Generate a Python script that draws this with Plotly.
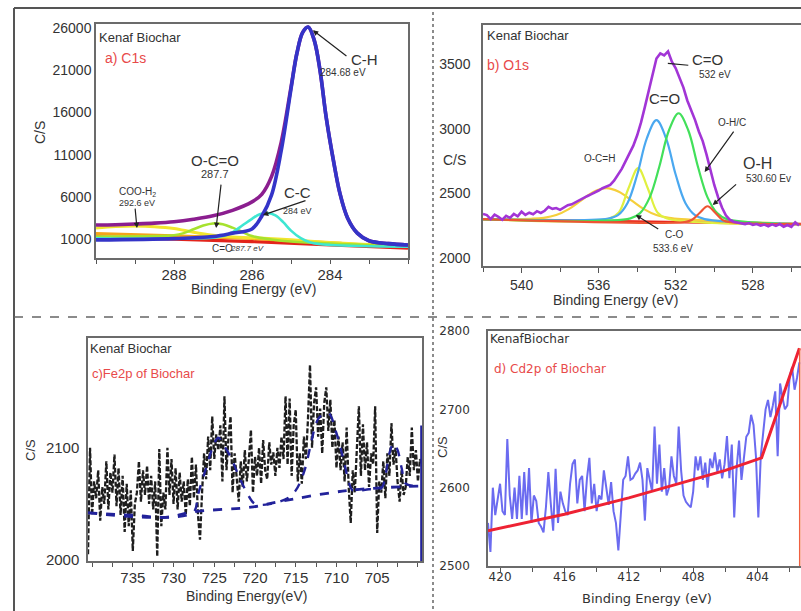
import plotly.graph_objects as go

W, H = 801, 611
FONT = "Liberation Sans, Arial, sans-serif"
FONT_D = "DejaVu Sans, sans-serif"

# ---------------- Panel a: C1s ----------------
a_env_x = [290, 289.5, 289, 288.5, 288, 287.5, 287, 286.5, 286, 285.75, 285.5, 285.25, 285.0, 284.85,
           284.7, 284.56, 284.4, 284.25, 284.1, 283.9, 283.75, 283.55, 283.3, 283.0, 282.5, 282]
a_env_y = [2660, 2700, 2780, 2880, 3050, 3350, 3750, 4400, 5400, 6300, 8400, 12500, 19000, 23000,
           25500, 26150, 24500, 20800, 15500, 10000, 6500, 3500, 1700, 800, 450, 290]
a_ch_x = [290, 288, 287, 286.5, 286, 285.75, 285.5, 285.25, 285.0, 284.85, 284.7, 284.56, 284.4,
          284.25, 284.1, 283.9, 283.75, 283.55, 283.3, 283.0, 282.5, 282]
a_ch_y = [900, 1050, 1300, 1700, 2200, 3700, 6200, 11500, 18800, 23000, 25500, 26150, 24500,
          20800, 15500, 10000, 6500, 3500, 1700, 800, 450, 290]
a_cc_x = [290, 287, 286.75, 286.5, 286.25, 286.0, 285.8, 285.6, 285.4, 285.2, 285.0, 284.75, 284.5, 284, 282]
a_cc_y = [1100, 1150, 1350, 1800, 2600, 3400, 3950, 4080, 3800, 3000, 2000, 1100, 600, 300, 100]
a_oco_x = [290, 288.5, 288, 287.75, 287.5, 287.25, 287.0, 286.75, 286.5, 286.25, 286.0, 285.5, 285, 282]
a_oco_y = [1300, 1350, 1450, 1700, 2150, 2600, 2850, 2750, 2350, 1850, 1350, 950, 700, 100]
a_cooh_x = [290, 289.5, 289, 288.5, 288, 287.5, 287, 286.5, 286, 285, 284, 283, 282]
a_cooh_y = [2300, 2480, 2540, 2470, 2250, 1800, 1450, 1250, 1150, 900, 600, 350, 200]
a_org_x = [290, 288, 286, 284, 283, 282]
a_org_y = [1650, 1400, 1050, 550, 300, 150]
a_base_x = [290, 288, 286, 284, 282]
a_base_y = [1250, 1000, 700, 300, -80]
a_ticks = [288, 286, 284]

# ---------------- Panel b: O1s ----------------
b_x0, b_step = 542.0, 0.2
b_counts = [2340, 2332, 2300, 2335, 2318, 2296, 2326, 2310, 2340, 2322,
            2358, 2333, 2350, 2338, 2362, 2348, 2365, 2395, 2380, 2386,
            2372, 2390, 2408, 2415, 2432, 2448, 2462, 2478, 2492, 2505,
            2522, 2540, 2556, 2566, 2598, 2640, 2690, 2750, 2805, 2870,
            2950, 3050, 3170, 3295, 3420, 3545, 3585, 3570, 3600, 3520,
            3470, 3390, 3320, 3220, 3150, 3070, 2980, 2905, 2800, 2680,
            2565, 2470, 2390, 2330, 2296, 2280, 2272, 2268, 2262, 2270,
            2255, 2262, 2250, 2258, 2245, 2260, 2248, 2262, 2242, 2255,
            2240, 2275, 2250]
b_x = [round(b_x0 - b_step * i, 2) for i in range(len(b_counts))]
b_co_x = [542, 535.5, 535, 534.5, 534, 533.5, 533, 532.5, 532, 531.5, 531, 530.5, 525.5]
b_co_y = [2300, 2305, 2331, 2426, 2644, 2927, 3067, 2927, 2644, 2426, 2331, 2300, 2262]
b_ohc_x = [542, 534.35, 533.85, 533.35, 532.85, 532.35, 531.85, 531.35, 530.85, 530.35, 529.85, 529.35, 525.5]
b_ohc_y = [2300, 2306, 2347, 2469, 2708, 2989, 3121, 2989, 2708, 2469, 2347, 2300, 2262]
b_c_o_x = [542, 535.45, 534.95, 534.45, 533.95, 533.45, 532.95, 532.45, 525.5]
b_c_o_y = [2300, 2305, 2353, 2540, 2696, 2540, 2353, 2305, 2262]
b_och_x = [542, 539.5, 538.85, 538.2, 537.55, 536.9, 536.25, 535.6, 534.95, 534.3, 533.65, 533.0,
           532.35, 531.7, 525.5]
b_och_y = [2300, 2303, 2310, 2332, 2378, 2446, 2512, 2540, 2512, 2446, 2378, 2332, 2310, 2300, 2262]
b_oh_x = [542, 531.55, 531.15, 530.75, 530.35, 529.95, 529.55, 529.15, 525.5]
b_oh_y = [2300, 2278, 2295, 2350, 2400, 2350, 2292, 2276, 2262]
b_base_x = [542, 525.5]
b_base_y = [2300, 2262]
b_ticks = [540, 536, 532, 528]

# ---------------- Panel c: Fe2p ----------------
c_x0, c_step = 740.5, 0.25
c_counts = [2005, 2100, 2040, 2070, 2055, 2080, 2035, 2065, 2050, 2088, 2045, 2078,
            2060, 2094, 2048, 2082, 2040, 2075, 2025, 2068, 2030, 2062, 2008, 2050,
            2060, 2088, 2052, 2080, 2058, 2084, 2050, 2075, 2045, 2070, 2003, 2099,
            2030, 2060, 2045, 2100, 2058, 2090, 2050, 2082, 2045, 2078, 2052, 2070,
            2040, 2072, 2048, 2092, 2055, 2085, 2040, 2018, 2060, 2095, 2072, 2110,
            2080, 2128, 2090, 2112, 2098, 2120, 2070, 2146, 2080, 2110, 2128, 2060,
            2095, 2070, 2052, 2088, 2065, 2098, 2070, 2090, 2116, 2060, 2092, 2075,
            2100, 2068, 2107, 2080, 2072, 2105, 2085, 2096, 2075, 2100, 2082, 2110,
            2090, 2146, 2085, 2144, 2075, 2120, 2134, 2070, 2095, 2068, 2110, 2090,
            2125, 2174, 2100, 2140, 2154, 2110, 2135, 2095, 2140, 2154, 2115, 2143,
            2100, 2125, 2082, 2110, 2080, 2105, 2070, 2118, 2065, 2033, 2080, 2060,
            2095, 2137, 2075, 2121, 2080, 2105, 2065, 2095, 2085, 2137, 2024, 2070,
            2060, 2088, 2055, 2095, 2075, 2122, 2085, 2100, 2070, 2052, 2080, 2058,
            2065, 2092, 2075, 2118, 2080, 2098, 2070, 2090, 2085]
c_x = [round(c_x0 - c_step * i, 2) for i in range(len(c_counts))]
c_fit_x = [740.5, 735, 730, 727.5, 727, 726, 725, 724.5, 724, 723, 722, 721, 720, 718, 717, 716,
           715, 714, 713, 712.5, 712, 711, 710, 709, 708.5, 708, 706, 704.5, 704, 703.5, 703,
           702.5, 702, 701.5, 700.5, 699.5]
c_fit_y = [2042, 2040, 2038, 2043, 2058, 2082, 2104, 2109, 2104, 2092, 2075, 2060, 2050, 2050,
           2052, 2055, 2062, 2078, 2108, 2122, 2128, 2131, 2113, 2085, 2070, 2062, 2063, 2064,
           2075, 2095, 2104, 2098, 2082, 2068, 2066, 2066]
c_base_x = [740.5, 731, 727.5, 720.5, 717, 708.5, 699.5]
c_base_y = [2042, 2038, 2043, 2047, 2052, 2062, 2066]
c_edge_x = [699.6, 699.6]
c_edge_y = [2120, 1999]
c_ticks = [735, 730, 725, 720, 715, 710, 705]

# ---------------- Panel d: Cd2p ----------------
d_x0, d_step = 420.75, 0.15
d_counts = [2555, 2518, 2600, 2565, 2585, 2605, 2570, 2565, 2662, 2590,
            2560, 2600, 2560, 2615, 2560, 2620, 2565, 2625, 2555, 2590,
            2583, 2555, 2550, 2543, 2575, 2620, 2580, 2545, 2624, 2555,
            2595, 2580, 2570, 2565, 2605, 2630, 2636, 2580, 2610, 2615,
            2570, 2612, 2638, 2580, 2605, 2570, 2590, 2585, 2622, 2600,
            2578, 2607, 2570, 2555, 2520, 2565, 2610, 2615, 2640, 2610,
            2612, 2618, 2622, 2632, 2610, 2558, 2625, 2610, 2595, 2678,
            2605, 2655, 2595, 2625, 2590, 2600, 2640, 2615, 2605, 2678,
            2622, 2590, 2582, 2578, 2575, 2595, 2640, 2622, 2640, 2610,
            2632, 2600, 2637, 2625, 2645, 2620, 2636, 2612, 2630, 2666,
            2612, 2655, 2562, 2625, 2660, 2610, 2640, 2665, 2670, 2693,
            2680, 2640, 2562, 2640, 2670, 2700, 2712, 2690, 2705, 2723,
            2640, 2733, 2715, 2700, 2705, 2742, 2754, 2725, 2740, 2760]
d_x = [round(d_x0 - d_step * i, 3) for i in range(len(d_counts))]
d_fit_x = [420.75, 416, 412, 408, 406, 403.75, 401.4]
d_fit_y = [2545, 2566, 2587, 2610, 2622, 2638, 2778]
d_edge_x = [401.38, 401.38]
d_edge_y = [2778, 2500]
d_ticks = [420, 416, 412, 408, 404]

fig = go.Figure()


def add(xs, ys, color, width, n, dash=None, shape="spline"):
    fig.add_trace(go.Scatter(
        x=xs, y=ys, mode="lines",
        line=dict(color=color, width=width, dash=dash, shape=shape),
        xaxis="x" if n == 1 else f"x{n}", yaxis="y" if n == 1 else f"y{n}",
        showlegend=False, hoverinfo="skip"))


# panel a
add(a_base_x, a_base_y, "#e3241b", 3.2, 1)
add(a_org_x, a_org_y, "#f5a31a", 3, 1)
add(a_cooh_x, a_cooh_y, "#f2e52e", 3, 1)
add(a_oco_x, a_oco_y, "#a6e22e", 2.6, 1)
add(a_cc_x, a_cc_y, "#3ee6d2", 2.6, 1)
add(a_env_x, a_env_y, "#8b1e8f", 3.6, 1)
add(a_ch_x, a_ch_y, "#3434c8", 3.6, 1)

# panel b
add(b_base_x, b_base_y, "#e8281e", 2.5, 2, shape="linear")
add(b_och_x, b_och_y, "#f5cf3c", 2.2, 2)
add(b_c_o_x, b_c_o_y, "#e0f040", 2.2, 2)
add(b_co_x, b_co_y, "#4aa8f0", 2.2, 2)
add(b_ohc_x, b_ohc_y, "#42e05a", 2.2, 2)
add(b_oh_x, b_oh_y, "#ee5533", 2.2, 2)
add(b_x, b_counts, "#a235d6", 2.6, 2, shape="linear")

# panel c
add(c_x, c_counts, "#1e1e1e", 2.3, 3, dash="5px,2px", shape="linear")
add(c_base_x, c_base_y, "#22229a", 2.8, 3, dash="dash")
add(c_fit_x, c_fit_y, "#22229a", 2.4, 3, dash="dash")
add(c_edge_x, c_edge_y, "#22229a", 2, 3, shape="linear")

# panel d
add(d_x, d_counts, "#6b6bf0", 2, 4, shape="linear")
add(d_fit_x, d_fit_y, "#ee2233", 3, 4, shape="linear")
add(d_edge_x, d_edge_y, "#f06040", 1.5, 4, shape="linear")


def axis(domain, rng, anchor, family=FONT, size=14, **kw):
    d = dict(domain=domain, range=rng, anchor=anchor, showline=True, mirror=True,
             linecolor="#6b6b6b", linewidth=1.5, showgrid=False, zeroline=False,
             automargin=False, tickformat="d",
             tickfont=dict(family=family, size=size, color="#333"), tickcolor="#555")
    d.update(kw)
    return d


def px(x):
    return x / W


def py(y):
    return 1 - y / H


def minor(t0, dt):
    return dict(tickmode="linear", tick0=t0, dtick=dt, ticks="outside", ticklen=4, tickcolor="#555")


layout = dict(
    width=W, height=H, margin=dict(l=0, r=0, t=0, b=0, autoexpand=False),
    paper_bgcolor="white", plot_bgcolor="white",
    xaxis=axis([px(96), px(408)], [290, 282], "y", size=15, tickmode="array", tickvals=a_ticks,
               ticks="outside", ticklen=4, minor=minor(283, 1), ticklabelstandoff=-2),
    yaxis=axis([py(258), py(24)], [-1250, 26500], "x", size=14, tickmode="linear", tick0=1000,
               dtick=5000, ticks="", ticklabelstandoff=0),
    xaxis2=axis([px(483), 1.0], [542, 525.5], "y2", size=14, tickmode="array", tickvals=b_ticks,
                ticks="outside", ticklen=5, minor=minor(526, 2), ticklabelstandoff=0),
    yaxis2=axis([py(266), py(25)], [1937, 3805], "x2", size=14, tickmode="linear", tick0=2000,
                dtick=500, ticks="", ticklabelstandoff=8),
    xaxis3=axis([px(88), px(422)], [740.5, 699.5], "y3", size=15, tickmode="array", tickvals=c_ticks,
                ticks="outside", ticklen=4, minor=minor(702.5, 2.5), ticklabelstandoff=-2),
    yaxis3=axis([py(561), py(338)], [1999, 2198], "x3", size=15, tickmode="linear", tick0=2000,
                dtick=100, ticks="", ticklabelstandoff=4),
    xaxis4=axis([px(488), 1.0], [420.75, 401.3], "y4", family=FONT_D, size=12, tickmode="array",
                tickvals=d_ticks, ticks="outside", ticklen=4, minor=minor(402, 2),
                ticklabelstandoff=-5),
    yaxis4=axis([py(566), py(331)], [2500, 2800], "x4", family=FONT_D, size=12, tickmode="linear",
                tick0=2500, dtick=100, ticks="", ticklabelstandoff=14),
)
fig.update_layout(**layout)

RED = "#e84a4a"
DARK = "#333333"


def txt(s, x, y, size=13, color=DARK, xanchor="left", family=FONT, angle=0):
    return dict(text=s, x=px(x), y=py(y), xref="paper", yref="paper", xanchor=xanchor,
                yanchor="middle", showarrow=False, textangle=angle,
                font=dict(family=family, size=size, color=color))


def arrow(n, tail, tip, head=2):
    xr = "x" if n == 1 else f"x{n}"
    yr = "y" if n == 1 else f"y{n}"
    return dict(x=tip[0], y=tip[1], ax=tail[0], ay=tail[1], xref=xr, yref=yr, axref=xr, ayref=yr,
                text="", showarrow=True, arrowhead=head, arrowsize=0.9, arrowwidth=1.2,
                arrowcolor="#222")


ann = [
    # panel a
    txt("Kenaf Biochar", 97, 37, 13),
    txt("a) C1s", 103, 58, 14, RED),
    txt("C-H", 349, 60, 15),
    txt("284.68 eV", 318, 72, 10),
    txt("O-C=O", 215, 160, 15, xanchor="center"),
    txt("287.7", 215, 174, 11, xanchor="center"),
    txt("C-C", 282, 193, 15),
    txt("284 eV", 281, 211, 9),
    txt("COO-H<sub>2</sub>", 117, 192, 10),
    txt("292.6 eV", 117, 203, 9),
    txt("C=O", 210, 248, 10),
    txt("<i>287.7 eV</i>", 228, 248, 8),
    txt("Binding Energy (eV)", 253, 289, 14, xanchor="center"),
    txt("C/S", 40, 133, 14, xanchor="center", angle=-90),
    arrow(1, (283.54, 22560), (284.44, 25760)),
    arrow(1, (286.79, 7635), (286.92, 2300)),
    arrow(1, (284.59, 5620), (285.72, 3840)),
    arrow(1, (289.0, 4790), (288.95, 2300)),
    # panel b
    txt("Kenaf Biochar", 485, 36, 13),
    txt("b) O1s", 485, 65, 14, RED),
    txt("C=O", 690, 60, 15),
    txt("532 eV", 697, 75, 10),
    txt("C=O", 647, 98, 15),
    txt("O-H/C", 716, 123, 10),
    txt("O-C=H", 582, 159, 10),
    txt("O-H", 741, 163, 16),
    txt("530.60 Ev", 744, 178, 10),
    txt("C-O", 663, 235, 10),
    txt("533.6 eV", 651, 249, 10),
    txt("C/S", 441, 160, 14),
    txt("Binding Energy (eV)", 615, 300, 14, xanchor="center"),
    arrow(2, (531.27, 3492), (532.41, 3508), head=0),
    arrow(2, (528.94, 2990), (530.5, 2665)),
    arrow(2, (528.79, 2580), (530.08, 2410)),
    arrow(2, (532.83, 2217), (534.07, 2332)),
    # panel c
    txt("Kenaf Biochar", 88, 348, 13),
    txt("c)Fe2p of Biochar", 90, 373, 13, RED),
    txt("C/S", 30, 450, 13, xanchor="center", angle=-90),
    txt("Binding Energy(eV)", 247, 596, 14, xanchor="center"),
    # panel d
    txt("KenafBiochar", 488, 339, 12, family=FONT_D),
    txt("d) Cd2p of Biochar", 492, 369, 12, RED, family=FONT_D),
    txt("C/S", 442, 447, 13, xanchor="center", angle=-90),
    txt("Binding Energy (eV)", 647, 598, 13, xanchor="center", family=FONT_D),
]
fig.update_layout(annotations=ann)

shapes = [
    dict(type="line", xref="paper", yref="paper", x0=px(14), y0=py(8), x1=1, y1=py(8),
         line=dict(color="#555", width=2)),
    dict(type="line", xref="paper", yref="paper", x0=px(14), y0=py(8), x1=px(14), y1=0,
         line=dict(color="#555", width=2)),
    dict(type="line", xref="paper", yref="paper", x0=px(433), y0=py(12), x1=px(433), y1=0,
         line=dict(color="#666", width=1.5, dash="dot")),
    dict(type="line", xref="paper", yref="paper", x0=px(14), y0=py(317), x1=1, y1=py(317),
         line=dict(color="#666", width=1.5, dash="dash")),
]
fig.update_layout(shapes=shapes)

fig.write_html("out.html", config={"displayModeBar": False},
               post_script="document.body.style.margin='0';document.body.style.padding='0';")
